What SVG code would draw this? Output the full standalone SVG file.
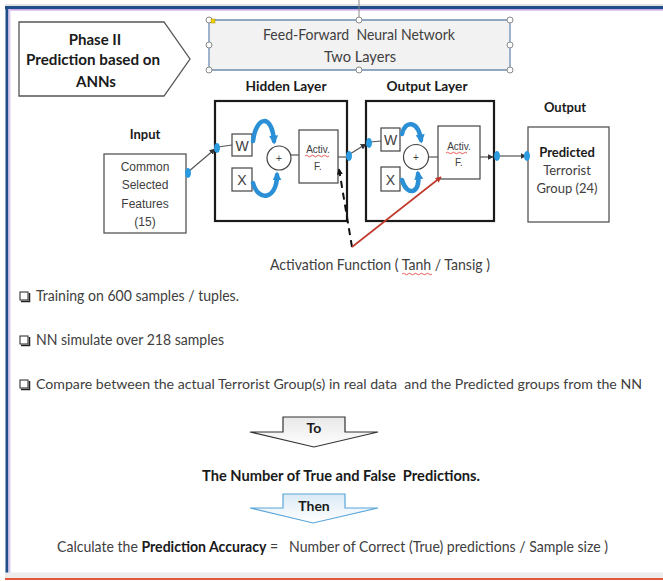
<svg xmlns="http://www.w3.org/2000/svg" width="663" height="581" viewBox="0 0 663 581">
<style>
.t{font-family:Lato,"Liberation Sans",sans-serif;fill:#404040}
.b{font-family:Lato,"Liberation Sans",sans-serif;font-weight:bold;fill:#1a1a1a}
.a{font-family:"Liberation Sans",Arial,sans-serif;fill:#404040}
.box{fill:#fff;stroke:#555;stroke-width:1.3}
.layer{fill:#fff;stroke:#1a1a1a;stroke-width:2.2}
.small{fill:#fff;stroke:#444;stroke-width:1.2}
.dot{fill:#2a9be0}
.wire{stroke:#555;stroke-width:1.2;fill:none}
.curve{stroke:#2a8fd4;stroke-width:4.5;fill:none;stroke-linecap:round}
.handle{fill:#fff;stroke:#8a8a8a;stroke-width:1}
.squig{fill:none;stroke:#e03030;stroke-width:0.8}
</style>
<defs>
<marker id="ah" viewBox="0 0 10 10" refX="9" refY="5" markerWidth="6" markerHeight="6" orient="auto" markerUnits="userSpaceOnUse"><path d="M0,0L10,5L0,10Z" fill="#333"/></marker>
<marker id="ab" viewBox="0 0 10 10" refX="6" refY="5" markerWidth="9" markerHeight="9" orient="auto" markerUnits="userSpaceOnUse"><path d="M0,0L10,5L0,10Z" fill="#2a8fd4"/></marker>
<marker id="ak" viewBox="0 0 10 10" refX="9" refY="5" markerWidth="6" markerHeight="6" orient="auto" markerUnits="userSpaceOnUse"><path d="M0,0L10,5L0,10Z" fill="#111"/></marker>
<marker id="ar" viewBox="0 0 10 10" refX="9" refY="5" markerWidth="6" markerHeight="6" orient="auto" markerUnits="userSpaceOnUse"><path d="M0,0L10,5L0,10Z" fill="#c0392b"/></marker>
<linearGradient id="gg" x1="0" y1="0" x2="0" y2="1"><stop offset="0" stop-color="#e8e8e8"/><stop offset="1" stop-color="#ffffff"/></linearGradient>
<linearGradient id="gb" x1="0" y1="0" x2="0" y2="1"><stop offset="0" stop-color="#dbeaf6"/><stop offset="1" stop-color="#ffffff"/></linearGradient>
</defs>

<!-- frame -->
<g id="frame">
<rect x="0" y="0" width="663" height="581" fill="#fff"/>
<rect x="5" y="4.5" width="658" height="1" fill="#c8c8c8"/>
<rect x="5" y="6" width="658" height="3.2" fill="#1f4e89"/>
<rect x="8" y="9" width="655" height="1.6" fill="#c9a8ea"/>
<rect x="5.5" y="6" width="3" height="572" fill="#1f4e89"/>
<rect x="8.5" y="9" width="2" height="564" fill="#ddc9f2"/>
<rect x="5" y="572.5" width="658" height="5.5" fill="#ececec"/>
<rect x="5" y="578" width="658" height="2" fill="#e2563a"/>
</g>

<g id="phase">
<path d="M19,22 H164 L190,59 L164,96 H19 Z" fill="#fff" stroke="#555" stroke-width="1.3"/>
<text class="b" x="95" y="45" font-size="15" text-anchor="middle">Phase II</text>
<text class="b" x="93" y="65" font-size="15" text-anchor="middle" textLength="134" lengthAdjust="spacingAndGlyphs">Prediction based on</text>
<text class="b" x="96" y="87" font-size="15" text-anchor="middle">ANNs</text>
</g>

<g id="ffnn">
<line x1="359" y1="0" x2="359" y2="20" stroke="#8a8a8a" stroke-width="1"/>
<rect x="209" y="20" width="301" height="50" rx="3" fill="#f2f2f2" stroke="#6f8db0" stroke-width="1.3"/>
<text class="t" x="359" y="40" font-size="15" text-anchor="middle" textLength="192" lengthAdjust="spacingAndGlyphs" xml:space="preserve">Feed-Forward  Neural Network</text>
<text class="t" x="360" y="62" font-size="15" text-anchor="middle" textLength="72" lengthAdjust="spacingAndGlyphs">Two Layers</text>
<circle class="handle" cx="209" cy="20" r="3"/>
<circle class="handle" cx="359" cy="20" r="3"/>
<circle class="handle" cx="510" cy="20" r="3"/>
<circle class="handle" cx="209" cy="45" r="3"/>
<circle class="handle" cx="510" cy="45" r="3"/>
<circle class="handle" cx="209" cy="70" r="3"/>
<circle class="handle" cx="359" cy="70" r="3"/>
<circle class="handle" cx="510" cy="70" r="3"/>
<rect x="211" y="19" width="4" height="4" fill="#f5d000" stroke="#a08800" stroke-width="0.5"/>
</g>

<g id="input">
<text class="b" x="145" y="139" font-size="13" text-anchor="middle">Input</text>
<rect class="box" x="104" y="154" width="82" height="79"/>
<text class="a" x="145" y="171" font-size="12" text-anchor="middle">Common</text>
<text class="a" x="145" y="189" font-size="12" text-anchor="middle">Selected</text>
<text class="a" x="145" y="208" font-size="12" text-anchor="middle">Features</text>
<text class="a" x="145" y="226" font-size="12" text-anchor="middle">(15)</text>
</g>

<g id="hidden">
<text class="b" x="286" y="91" font-size="13" text-anchor="middle" textLength="81" lengthAdjust="spacingAndGlyphs">Hidden Layer</text>
<rect class="layer" x="215" y="101" width="132" height="120"/>
<rect class="small" x="232" y="134" width="20" height="22"/>
<text class="a" x="242" y="151" font-size="14" text-anchor="middle">W</text>
<rect class="small" x="232" y="168" width="20" height="23"/>
<text class="a" x="242" y="185" font-size="14" text-anchor="middle">X</text>
<circle class="small" cx="279" cy="158" r="12"/>
<text class="a" x="279" y="162" font-size="10" text-anchor="middle">+</text>
<rect class="small" x="299" y="130" width="39" height="53"/>
<text class="a" x="318" y="153" font-size="10" text-anchor="middle">Activ.</text>
<path class="squig" d="M305,156 q1.5,-1.5 3,0 t3,0 t3,0 t3,0 t3,0 t3,0 t3,0 t3,0"/>
<text class="a" x="318" y="170" font-size="10" text-anchor="middle">F.</text>
</g>

<g id="outputLayer">
<text class="b" x="427" y="91" font-size="13" text-anchor="middle" textLength="81" lengthAdjust="spacingAndGlyphs">Output Layer</text>
<rect class="layer" x="366" y="101" width="128" height="120"/>
<rect class="small" x="381" y="128" width="19" height="23"/>
<text class="a" x="390.5" y="145" font-size="14" text-anchor="middle">W</text>
<rect class="small" x="381" y="167" width="19" height="24"/>
<text class="a" x="390.5" y="185" font-size="14" text-anchor="middle">X</text>
<circle class="small" cx="416" cy="157" r="12.5"/>
<text class="a" x="416" y="161" font-size="10" text-anchor="middle">+</text>
<rect class="small" x="438" y="126" width="42" height="53"/>
<text class="a" x="459" y="150" font-size="10" text-anchor="middle">Activ.</text>
<path class="squig" d="M446,153 q1.5,-1.5 3,0 t3,0 t3,0 t3,0 t3,0 t3,0 t3,0"/>
<text class="a" x="459" y="166" font-size="10" text-anchor="middle">F.</text>
</g>

<g id="outputNode">
<text class="b" x="565" y="112" font-size="13" text-anchor="middle">Output</text>
<rect class="box" x="528" y="127" width="81" height="95"/>
<text class="b" x="567" y="157" font-size="13" text-anchor="middle">Predicted</text>
<text class="t" x="567" y="175" font-size="13" text-anchor="middle">Terrorist</text>
<text class="t" x="567" y="193" font-size="13" text-anchor="middle">Group (24)</text>
</g>

<g id="connectors">
<line class="wire" x1="188" y1="172" x2="215" y2="149" marker-end="url(#ah)"/>
<line class="wire" x1="218" y1="147" x2="232" y2="145"/>
<line class="wire" x1="291" y1="155" x2="299" y2="155"/>
<line class="wire" x1="338" y1="157" x2="348" y2="157"/>
<line class="wire" x1="350" y1="154" x2="366" y2="144" marker-end="url(#ah)"/>
<line class="wire" x1="370" y1="142" x2="381" y2="141"/>
<line class="wire" x1="428" y1="157" x2="438" y2="157"/>
<line class="wire" x1="480" y1="157" x2="493" y2="157" marker-end="url(#ah)"/>
<line class="wire" x1="498" y1="156" x2="526" y2="156" marker-end="url(#ah)"/>
<path class="curve" d="M253,141 C256,116 272,113 274,141" marker-end="url(#ab)"/>
<path class="curve" d="M253,183 C258,202 277,200 277,175" marker-end="url(#ab)"/>
<path class="curve" d="M402,134 C405,120 418,120 421,140" marker-end="url(#ab)"/>
<path class="curve" d="M402,180 C407,197 421,194 418,174" marker-end="url(#ab)"/>
<ellipse class="dot" cx="188" cy="173" rx="3" ry="5"/>
<ellipse class="dot" cx="217" cy="148" rx="3" ry="5"/>
<ellipse class="dot" cx="349" cy="156" rx="3" ry="5"/>
<ellipse class="dot" cx="369" cy="143" rx="3" ry="5"/>
<ellipse class="dot" cx="497" cy="156" rx="3" ry="5"/>
<ellipse class="dot" cx="527" cy="156" rx="3" ry="5"/>
<line x1="352" y1="247" x2="339" y2="169" stroke="#111" stroke-width="2" stroke-dasharray="7,5" marker-end="url(#ak)"/>
<line x1="352" y1="247" x2="441" y2="177" stroke="#c0392b" stroke-width="1.6" marker-end="url(#ar)"/>
</g>

<g id="activationLabel">
<text class="t" x="380" y="270" font-size="15" text-anchor="middle" textLength="220" lengthAdjust="spacingAndGlyphs">Activation Function ( Tanh / Tansig )</text>
<path class="squig" d="M402,274 q1.5,-1.5 3,0 t3,0 t3,0 t3,0 t3,0 t3,0 t3,0 t3,0 t3,0 t3,0"/>
</g>

<g id="bullets">
<rect x="20" y="292" width="8" height="8" fill="#fff" stroke="#222" stroke-width="1"/>
<path d="M21,301.5 H29.5 V293" fill="none" stroke="#222" stroke-width="1.5"/>
<text class="t" x="36" y="301" font-size="14.5" textLength="203" lengthAdjust="spacingAndGlyphs">Training on 600 samples / tuples.</text>
<rect x="20" y="336" width="8" height="8" fill="#fff" stroke="#222" stroke-width="1"/>
<path d="M21,345.5 H29.5 V337" fill="none" stroke="#222" stroke-width="1.5"/>
<text class="t" x="36" y="345" font-size="14.5" textLength="188" lengthAdjust="spacingAndGlyphs">NN simulate over 218 samples</text>
<rect x="20" y="380" width="8" height="8" fill="#fff" stroke="#222" stroke-width="1"/>
<path d="M21,389.5 H29.5 V381" fill="none" stroke="#222" stroke-width="1.5"/>
<text class="t" x="36" y="389" font-size="14" textLength="606" lengthAdjust="spacingAndGlyphs" xml:space="preserve">Compare between the actual Terrorist Group(s) in real data  and the Predicted groups from the NN</text>
</g>

<g id="arrowTo">
<path d="M283,417 H345 V432 H378 L314,447 L250,432 H283 Z" fill="url(#gg)" stroke="#333" stroke-width="1.2" stroke-linejoin="miter"/>
<text class="b" x="314" y="433" font-size="14" text-anchor="middle">To</text>
</g>

<g id="numberText">
<text class="b" x="341" y="481" font-size="15" text-anchor="middle" textLength="278" lengthAdjust="spacingAndGlyphs" xml:space="preserve">The Number of True and False  Predictions.</text>
</g>

<g id="arrowThen">
<path d="M283,494 H345 V508 H378 L313,523 L250,508 H283 Z" fill="url(#gb)" stroke="#5aa6d8" stroke-width="1.2"/>
<text class="b" x="314" y="511" font-size="14" text-anchor="middle">Then</text>
</g>

<g id="calcText">
<text class="t" x="57" y="552" font-size="15" textLength="551" lengthAdjust="spacingAndGlyphs" xml:space="preserve">Calculate the <tspan class="b">Prediction Accuracy</tspan> =   Number of Correct (True) predictions / Sample size )</text>
</g>
</svg>
